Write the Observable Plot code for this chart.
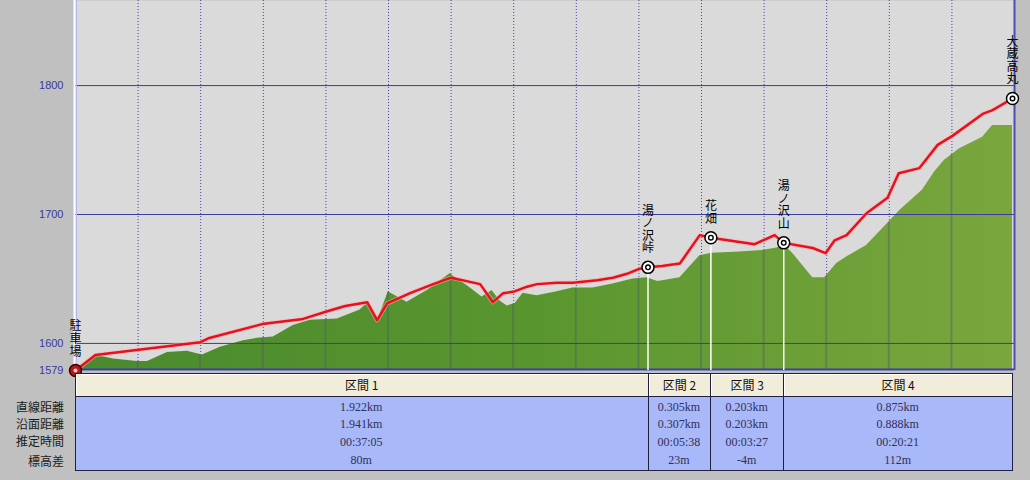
<!DOCTYPE html>
<html><head><meta charset="utf-8">
<script src="https://cdn.jsdelivr.net/npm/d3@7"></script>
<script src="https://cdn.jsdelivr.net/npm/@observablehq/plot@0.6"></script>
<style>
body{margin:0;background:#c0c0c0;}
#wrap{position:relative;width:1030px;height:480px;background:#c0c0c0;overflow:hidden;font-family:"Noto Sans CJK JP",sans-serif;}
#wrap svg{position:absolute;left:0;top:0;overflow:visible;}
.cell{position:absolute;box-sizing:border-box;}
.txt{position:absolute;white-space:nowrap;}
</style></head><body><div id="wrap"></div>
<script>
// Route (GPS track) distance in km and elevation in m
const routeDist = [0, 0.070, 0.439, 0.467, 0.656, 0.800, 0.885, 0.948, 1.025, 1.060, 1.095, 1.176, 1.257, 1.320, 1.422, 1.467, 1.503, 1.538, 1.587, 1.622, 1.692, 1.748, 1.833, 1.889, 1.938, 1.983, 2.012, 2.061, 2.124, 2.194, 2.233, 2.387, 2.457, 2.489, 2.591, 2.636, 2.668, 2.710, 2.780, 2.854, 2.893, 2.966, 3.030, 3.082, 3.188, 3.223, 3.293];
const routeElev = [1579, 1591, 1601, 1604, 1615, 1619, 1625, 1629, 1632, 1618, 1631, 1639, 1646, 1651, 1646, 1632, 1639, 1640, 1644, 1646, 1647, 1647, 1649, 1651, 1654, 1658, 1659, 1660, 1662, 1684, 1682, 1677, 1684, 1678, 1674, 1670, 1680, 1684, 1701, 1713, 1732, 1736, 1754, 1761, 1778, 1781, 1790];
// Terrain profile
const terrainDist = [0, 0.070, 0.133, 0.218, 0.253, 0.323, 0.393, 0.446, 0.509, 0.590, 0.639, 0.695, 0.765, 0.825, 0.920, 1.000, 1.025, 1.064, 1.099, 1.165, 1.236, 1.316, 1.376, 1.429, 1.464, 1.492, 1.517, 1.545, 1.573, 1.622, 1.692, 1.748, 1.818, 1.889, 1.959, 2.008, 2.047, 2.124, 2.194, 2.236, 2.334, 2.415, 2.464, 2.492, 2.520, 2.591, 2.633, 2.675, 2.710, 2.780, 2.854, 2.896, 2.977, 3.019, 3.054, 3.107, 3.188, 3.223, 3.293];
const terrainElev = [1579, 1591, 1588, 1586, 1586, 1593, 1594, 1591, 1597, 1602, 1604, 1605, 1614, 1618, 1619, 1626, 1631, 1619, 1640, 1632, 1641, 1654, 1645, 1636, 1641, 1633, 1629, 1631, 1639, 1637, 1640, 1643, 1643, 1646, 1650, 1651, 1648, 1651, 1668, 1670, 1671, 1672, 1674, 1676, 1670, 1651, 1651, 1662, 1667, 1676, 1693, 1703, 1719, 1733, 1742, 1751, 1760, 1769, 1769];
// Waypoints
const waypointNames = ["駐車場", "湯ノ沢峠", "花畑", "湯ノ沢山", "大蔵高丸"];
const waypointDist = [0, 2.012, 2.233, 2.489, 3.293];
const waypointElev = [1579, 1659, 1682, 1678, 1790];
// Axis
const yTicks = [1579, 1600, 1700, 1800];
const yGrid = [1600, 1700, 1800];
const gridStep = 0.22;
const xMax = 3.3;
// Table
const sectionLabels = ["区間 1", "区間 2", "区間 3", "区間 4"];
const rowLabels = ["直線距離", "沿面距離", "推定時間", "標高差"];
const straightDist = ["1.922km", "0.305km", "0.203km", "0.875km"];
const surfaceDist = ["1.941km", "0.307km", "0.203km", "0.888km"];
const estTime = ["00:37:05", "00:05:38", "00:03:27", "00:20:21"];
const elevDiff = ["80m", "23m", "-4m", "112m"];

const route = routeDist.map((d, i) => ({d, e: routeElev[i]}));
const terrain = terrainDist.map((d, i) => ({d, e: terrainElev[i]}));
const wps = waypointNames.map((n, i) => ({name: n, d: waypointDist[i], e: waypointElev[i], label: [...n].join("\n")}));
const gridX = d3.range(1, Math.round(xMax / gridStep)).map(k => +(k * gridStep).toFixed(3));
const FONT = "'Noto Sans CJK JP', sans-serif";

const plot = Plot.plot({
  width: 1030, height: 371,
  marginLeft: 75, marginRight: 16, marginTop: 0, marginBottom: 1,
  style: {background: "transparent", overflow: "visible"},
  x: {domain: [0, xMax], axis: null},
  y: {domain: [1579, 1866], axis: null},
  marks: [
    Plot.frame({fill: "#dadada", stroke: "none"}),
    Plot.ruleX(gridX, {stroke: "#4040b0", strokeWidth: 1, strokeDasharray: "1,2"}),
    Plot.areaY(terrain, {x: "d", y1: 1579, y2: "e", fill: "url(#terrainGrad)"}),
    Plot.areaY(terrain, {x: "d", y1: 1579, y2: "e", fill: "url(#stripes)"}),
    Plot.ruleY(yGrid, {stroke: "#3c3c9c", strokeWidth: 1}),
    Plot.ruleY([1579], {stroke: "#3c3cac", strokeWidth: 2, dy: -1}),
    Plot.ruleX(wps.slice(1, 4), {x: "d", y1: 1579, y2: "e", stroke: "white", strokeWidth: 1.5}),
    Plot.ruleX([0], {stroke: "white", strokeWidth: 2, dx: -1}),
    Plot.ruleX([0], {stroke: "#b8b8f0", strokeWidth: 1, dx: 1}),
    Plot.ruleX([xMax], {stroke: "#4c4cb0", strokeWidth: 2}),
    Plot.line(route, {x: "d", y: "e", stroke: "#ffb0b0", strokeWidth: 4.5, strokeOpacity: 0.5}),
    Plot.line(route, {x: "d", y: "e", stroke: "#e8101c", strokeWidth: 2.5}),
    Plot.dot(wps.slice(1), {x: "d", y: "e", r: 6, fill: "white", stroke: "black", strokeWidth: 1.5}),
    Plot.dot(wps.slice(1), {x: "d", y: "e", r: 2.3, fill: "white", stroke: "black", strokeWidth: 1.4}),
    Plot.dot(wps.slice(0, 1), {x: "d", y: "e", r: 6, fill: "#b81818", stroke: "#300000", strokeWidth: 1.5}),
    Plot.dot(wps.slice(0, 1), {x: "d", y: "e", r: 2, fill: "#f0d0d0", stroke: "none"}),
    Plot.text(wps, {x: "d", y: "e", text: "label", lineAnchor: "bottom", dy: -15, fontSize: 12, lineHeight: 1.05, fill: "black", fontFamily: FONT}),
    Plot.text(yTicks, {x: 0, y: d => d, text: d => String(d), textAnchor: "end", dx: -12, fill: "#3838a0", fontSize: 11, fontFamily: "'Liberation Sans', sans-serif"})
  ]
});

const xs = v => plot.scale("x").apply(v);
const step = xs(gridStep) - xs(0);
const ns = "http://www.w3.org/2000/svg";
const defs = document.createElementNS(ns, "defs");
defs.innerHTML = `<linearGradient id="terrainGrad" gradientUnits="userSpaceOnUse" x1="${xs(0)}" x2="${xs(xMax)}" y1="0" y2="0">
<stop offset="0" stop-color="#4a8a2e"/><stop offset="0.5" stop-color="#5a962f"/><stop offset="1" stop-color="#7ba63e"/></linearGradient>
<pattern id="stripes" patternUnits="userSpaceOnUse" x="${xs(0) - 1}" y="0" width="${step}" height="10">
<rect x="0" y="0" width="2" height="10" fill="rgba(70,80,110,0.35)"/></pattern>`;
plot.insertBefore(defs, plot.firstChild);

const wrap = document.getElementById("wrap");
wrap.appendChild(plot);

// Table below the chart, columns from the x scale
function el(cls, css, text) {
  const d = document.createElement("div");
  d.className = cls;
  Object.assign(d.style, css);
  if (text != null) d.textContent = text;
  wrap.appendChild(d);
  return d;
}
const tTop = 373, hH = 24, bBottom = 471;
const left0 = xs(0), right0 = xs(waypointDist[waypointDist.length - 1]);
el("cell", {left: left0 + "px", top: tTop + "px", width: (right0 - left0 + 1) + "px", height: (bBottom - tTop) + "px", border: "1px solid #202040", background: "#a8b8f8"});
const rows = [straightDist, surfaceDist, estTime, elevDiff];
const rowY = [407, 424, 442, 460];
for (let i = 0; i < sectionLabels.length; i++) {
  const l = xs(waypointDist[i]), r = xs(waypointDist[i + 1]);
  el("cell", {left: l + "px", top: tTop + "px", width: (r - l + 1) + "px", height: hH + "px",
    background: "#f1edda", borderLeft: "1px solid #202040", borderRight: "1px solid #202040", borderTop: "1px solid #202040", borderBottom: "1px solid #202040",
    textAlign: "center", lineHeight: (hH - 2) + "px", fontSize: "12px", color: "#111", boxShadow: "inset 1px 1px 0 #ffffff"}, sectionLabels[i]);
  el("cell", {left: l + "px", top: (tTop + hH - 1) + "px", width: (r - l + 1) + "px", height: (bBottom - tTop - hH + 1) + "px",
    borderLeft: "1px solid #202040", borderRight: "1px solid #202040", borderBottom: "1px solid #202040"});
  rows.forEach((vals, j) => {
    el("txt", {left: l + "px", width: (r - l) + "px", top: (rowY[j] - 8) + "px", height: "16px", lineHeight: "16px", textAlign: "center",
      fontFamily: "'Liberation Serif', serif", fontSize: "12px", color: "#30305a"}, vals[i]);
  });
}
rowLabels.forEach((t, j) => {
  el("txt", {left: "0px", width: "64px", top: ([407, 424, 441, 461][j] - 8) + "px", height: "16px", lineHeight: "16px", textAlign: "right",
    fontSize: "12px", color: "#1a1a1a"}, t);
});
</script></body></html>
